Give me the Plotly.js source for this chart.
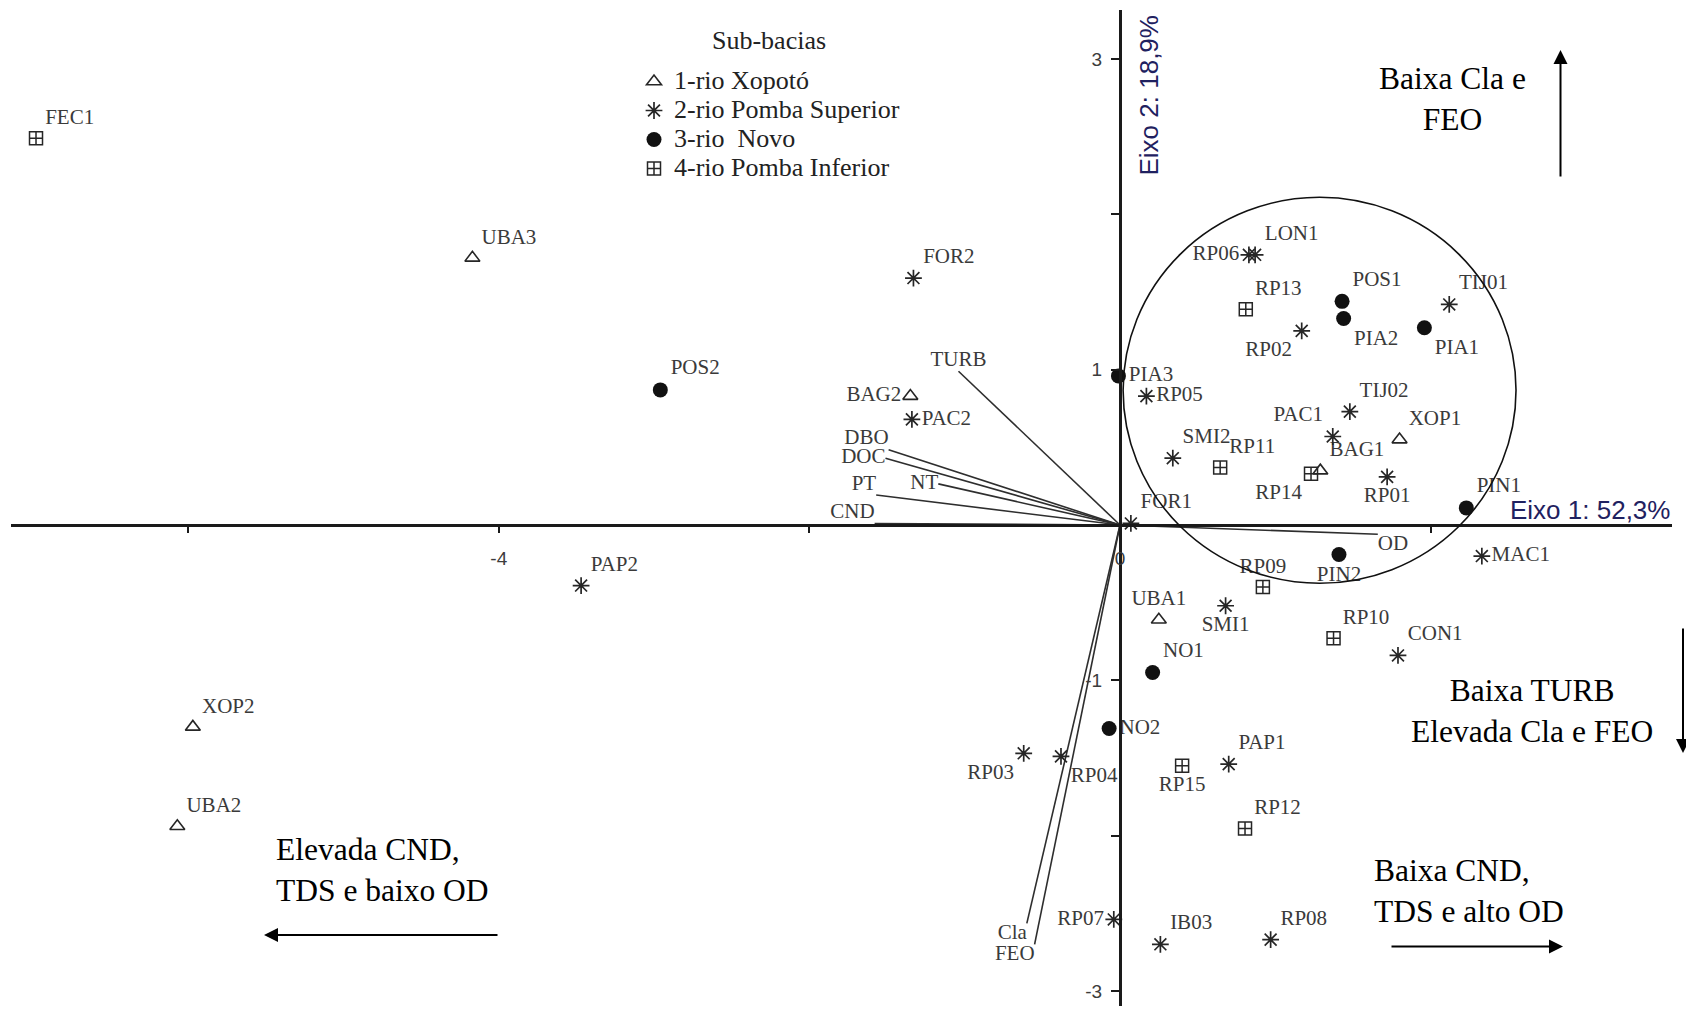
<!DOCTYPE html>
<html>
<head>
<meta charset="utf-8">
<script src="https://cdn.plot.ly/plotly-3.0.1.min.js"></script>
<style>
  html, body { margin: 0; padding: 0; background: #fff; }
  #chart { width: 1686px; height: 1009px; }
</style>
</head>
<body>
<div id="chart"></div>
<script>
// PCA site scores (Eixo 1, Eixo 2), one set of arrays per sub-basin
const xopotoSites = ['UBA3', 'BAG2', 'XOP2', 'UBA2', 'UBA1', 'XOP1', 'BAG1'];
const xopotoAx1 = [-4.17, -1.35, -5.97, -6.07, 0.25, 1.80, 1.29];
const xopotoAx2 = [1.72, 0.83, -1.30, -1.94, -0.61, 0.55, 0.35];

const pombaSupSites = ['FOR2', 'PAC2', 'PAP2', 'FOR1', 'RP05', 'SMI2', 'RP06', 'LON1', 'RP02', 'TIJ01', 'TIJ02',
  'PAC1', 'RP01', 'MAC1', 'SMI1', 'RP03', 'RP04', 'PAP1', 'RP07', 'IB03', 'RP08', 'CON1'];
const pombaSupAx1 = [-1.33, -1.34, -3.47, 0.07, 0.17, 0.34, 0.83, 0.87, 1.17, 2.12, 1.48,
  1.37, 1.72, 2.33, 0.68, -0.62, -0.38, 0.70, -0.04, 0.26, 0.97, 1.79];
const pombaSupAx2 = [1.59, 0.68, -0.39, 0.01, 0.83, 0.43, 1.74, 1.74, 1.25, 1.42, 0.73,
  0.57, 0.31, -0.20, -0.52, -1.47, -1.49, -1.54, -2.54, -2.70, -2.67, -0.84];

const novoSites = ['POS2', 'PIA3', 'POS1', 'PIA2', 'PIA1', 'PIN1', 'PIN2', 'NO1', 'NO2'];
const novoAx1 = [-2.96, -0.01, 1.43, 1.44, 1.96, 2.23, 1.41, 0.21, -0.07];
const novoAx2 = [0.87, 0.96, 1.44, 1.33, 1.27, 0.11, -0.19, -0.95, -1.31];

const pombaInfSites = ['FEC1', 'RP13', 'RP11', 'RP14', 'RP09', 'RP10', 'RP15', 'RP12'];
const pombaInfAx1 = [-6.98, 0.81, 0.645, 1.23, 0.92, 1.375, 0.40, 0.805];
const pombaInfAx2 = [2.49, 1.39, 0.37, 0.33, -0.40, -0.73, -1.55, -1.955];

// Variable loadings drawn as vectors from the origin
const variables = ['TURB', 'DBO', 'DOC', 'NT', 'PT', 'CND', 'OD', 'Cla', 'FEO'];
const loadAx1 = [-1.04, -1.49, -1.51, -1.17, -1.57, -1.58, 1.66, -0.60, -0.55];
const loadAx2 = [0.99, 0.485, 0.43, 0.265, 0.193, 0.01, -0.06, -2.565, -2.70];

// Axis ticks
const xTickVals = [-6, -4, -2, 0, 2];
const xTickText = ['', '-4', '', '0', ''];
const yTickVals = [-3, -2, -1, 0, 1, 2, 3];
const yTickText = ['-3', '', '-1', '', '1', '', '3'];

// Label placement around each marker / vector tip
const labelPos = {
  UBA3: 'top right', BAG2: 'middle left', XOP2: 'top right', UBA2: 'top right', UBA1: 'top center',
  XOP1: 'top right', BAG1: 'top right',
  FOR2: 'top right', PAC2: 'middle right', PAP2: 'top right', FOR1: 'top right', RP05: 'middle right',
  SMI2: 'top right', RP06: 'middle left', LON1: 'top right', RP02: 'bottom left', TIJ01: 'top right',
  TIJ02: 'top right', PAC1: 'top left', RP01: 'bottom center', MAC1: 'middle right', SMI1: 'bottom center',
  RP03: 'bottom left', RP04: 'bottom right', PAP1: 'top right', RP07: 'middle left', IB03: 'top right',
  RP08: 'top right', CON1: 'top right',
  POS2: 'top right', PIA3: 'middle right', POS1: 'top right', PIA2: 'bottom right', PIA1: 'bottom right',
  PIN1: 'top right', PIN2: 'bottom center', NO1: 'top right', NO2: 'middle right',
  FEC1: 'top right', RP13: 'top right', RP11: 'top right', RP14: 'bottom left', RP09: 'top center',
  RP10: 'top right', RP15: 'bottom center', RP12: 'top right',
  TURB: 'top center', DBO: 'top left', DOC: 'middle left', NT: 'middle left', PT: 'top left',
  CND: 'top left', OD: 'bottom right', Cla: 'bottom left', FEO: 'bottom left'
};

const serif = 'Liberation Serif, Times New Roman, serif';
const sans = 'Liberation Sans, Arial, sans-serif';
const labelFont = { family: serif, size: 21, color: '#3a3a3a' };
const ink = '#262626';

// Legend rows are packed tighter than the legend text size would give by default:
// the row height follows legend.font.size, the glyphs follow this span size.
const legendTextPx = 26;
const legendText = s => `<span style="font-size:${legendTextPx}px">${s}</span>`;

// Loading vectors: one polyline broken by nulls
const vecX = [], vecY = [];
variables.forEach((v, i) => { vecX.push(0, loadAx1[i], null); vecY.push(0, loadAx2[i], null); });

const traces = [
  { type: 'scatter', mode: 'lines', x: vecX, y: vecY, line: { color: '#2e2e2e', width: 1.6 },
    showlegend: false, hoverinfo: 'skip' },
  { type: 'scatter', mode: 'text', x: loadAx1, y: loadAx2, text: variables,
    textposition: variables.map(v => labelPos[v]), textfont: labelFont, showlegend: false, hoverinfo: 'skip' }
];

const groups = [
  { name: '1-rio Xopotó', sites: xopotoSites, x: xopotoAx1, y: xopotoAx2, symbol: 'triangle-up-open', size: 13, lw: 1.6 },
  { name: '2-rio Pomba Superior', sites: pombaSupSites, x: pombaSupAx1, y: pombaSupAx2, symbol: 'asterisk-open', size: 14, lw: 1.7 },
  { name: '3-rio\u00a0 Novo', sites: novoSites, x: novoAx1, y: novoAx2, symbol: 'circle', size: 15, lw: 0 },
  { name: '4-rio Pomba Inferior', sites: pombaInfSites, x: pombaInfAx1, y: pombaInfAx2, symbol: 'square-cross-open', size: 13, lw: 1.5 }
];

groups.forEach(g => {
  traces.push({
    type: 'scatter', mode: 'markers+text', name: legendText(g.name),
    x: g.x, y: g.y, text: g.sites,
    textposition: g.sites.map(s => labelPos[s]),
    textfont: labelFont,
    marker: { symbol: g.symbol, size: g.size, color: g.lw ? ink : '#111', line: { width: g.lw, color: ink } },
    cliponaxis: false
  });
});

// Pixel helpers for paper-positioned notes (figure is 1686 x 1009)
const W = 1686, H = 1009;
const px = p => p / W;
const py = p => 1 - p / H;

const noteFont = { family: serif, size: 31.5, color: '#000' };
const axisNameFont = { family: sans, size: 26, color: '#1f2160' };

const annotations = [
  // heading of the legend block
  { xref: 'paper', yref: 'paper', x: px(769), y: py(41), text: 'Sub-bacias', showarrow: false,
    font: { family: serif, size: legendTextPx, color: '#222' }, xanchor: 'center', yanchor: 'middle' },

  { xref: 'paper', yref: 'paper', x: px(1589.5), y: py(510), text: 'Eixo 1: 52,3%', showarrow: false,
    font: axisNameFont, xanchor: 'center', yanchor: 'middle' },
  { xref: 'paper', yref: 'paper', x: px(1148), y: py(95.5), text: 'Eixo 2: 18,9%', showarrow: false,
    font: axisNameFont, textangle: -90, xanchor: 'center', yanchor: 'middle' },

  { xref: 'paper', yref: 'paper', x: px(1452.5), y: py(99), text: 'Baixa Cla e<br>FEO', showarrow: false,
    font: noteFont, align: 'center', xanchor: 'center', yanchor: 'middle' },
  { xref: 'paper', yref: 'paper', x: px(1531.5), y: py(711), text: 'Baixa TURB<br>Elevada Cla e FEO', showarrow: false,
    font: noteFont, align: 'center', xanchor: 'center', yanchor: 'middle' },
  { xref: 'paper', yref: 'paper', x: px(1371.7), y: py(891), text: 'Baixa CND,<br>TDS e alto OD', showarrow: false,
    font: noteFont, align: 'left', xanchor: 'left', yanchor: 'middle' },
  { xref: 'paper', yref: 'paper', x: px(273.6), y: py(870), text: 'Elevada CND,<br>TDS e baixo OD', showarrow: false,
    font: noteFont, align: 'left', xanchor: 'left', yanchor: 'middle' },

  // direction arrows
  { xref: 'paper', yref: 'paper', x: px(1560.5), y: py(50), text: '', showarrow: true, ax: 0, ay: 128,
    arrowhead: 2, arrowsize: 1.4, arrowwidth: 2, arrowcolor: '#000', standoff: 0 },
  { xref: 'paper', yref: 'paper', x: px(1683), y: py(753), text: '', showarrow: true, ax: 0, ay: -126,
    arrowhead: 2, arrowsize: 1.4, arrowwidth: 2, arrowcolor: '#000', standoff: 0 },
  { xref: 'paper', yref: 'paper', x: px(1563), y: py(946.5), text: '', showarrow: true, ax: -173, ay: 0,
    arrowhead: 2, arrowsize: 1.4, arrowwidth: 2, arrowcolor: '#000', standoff: 0 },
  { xref: 'paper', yref: 'paper', x: px(264), y: py(935), text: '', showarrow: true, ax: 235, ay: 0,
    arrowhead: 2, arrowsize: 1.4, arrowwidth: 2, arrowcolor: '#000', standoff: 0 }
];

// Group of sites highlighted by an enclosing circle (axis units)
const clusterX = [0.02, 2.55];
const clusterY = [-0.375, 2.11];

// Axis frame: origin at pixel (1120, 525), 155.3 px per unit on both axes
const originPx = [1120, 525];
const unitPx = 155.3;
const xDomPx = [11, 1672];
const yDomPx = [10, 1006];

const layout = {
  width: W, height: H,
  margin: { l: 0, r: 0, t: 0, b: 0, pad: 0 },
  paper_bgcolor: '#fff', plot_bgcolor: '#fff',
  showlegend: true,
  legend: {
    x: px(634), y: py(62), xanchor: 'left', yanchor: 'top',
    bgcolor: 'rgba(0,0,0,0)', borderwidth: 0,
    font: { family: serif, size: 20, color: '#222' },
    itemsizing: 'trace', tracegroupgap: 0
  },
  xaxis: {
    domain: [xDomPx[0] / W, xDomPx[1] / W],
    range: [(xDomPx[0] - originPx[0]) / unitPx, (xDomPx[1] - originPx[0]) / unitPx],
    anchor: 'free', position: 1 - originPx[1] / H,
    showline: true, linecolor: '#1a1a1a', linewidth: 2.5,
    ticks: 'outside', ticklen: 6, tickwidth: 2, tickcolor: '#1a1a1a',
    tickmode: 'array', tickvals: xTickVals, ticktext: xTickText,
    tickfont: { family: sans, size: 19, color: '#3c3c3c' }, ticklabelstandoff: 10,
    showgrid: false, zeroline: false, fixedrange: true
  },
  yaxis: {
    domain: [1 - yDomPx[1] / H, 1 - yDomPx[0] / H],
    range: [(originPx[1] - yDomPx[1]) / unitPx, (originPx[1] - yDomPx[0]) / unitPx],
    anchor: 'free', position: originPx[0] / W,
    showline: true, linecolor: '#1a1a1a', linewidth: 2.5,
    ticks: 'outside', ticklen: 8, tickwidth: 2, tickcolor: '#1a1a1a',
    tickmode: 'array', tickvals: yTickVals, ticktext: yTickText,
    tickfont: { family: sans, size: 19, color: '#3c3c3c' }, ticklabelstandoff: 5,
    showgrid: false, zeroline: false, fixedrange: true
  },
  shapes: [
    { type: 'circle', xref: 'x', yref: 'y', x0: clusterX[0], x1: clusterX[1], y0: clusterY[0], y1: clusterY[1],
      line: { color: '#111', width: 1.6 } }
  ],
  annotations: annotations
};

Plotly.newPlot('chart', traces, layout, { displayModeBar: false, staticPlot: true });
</script>
</body>
</html>
